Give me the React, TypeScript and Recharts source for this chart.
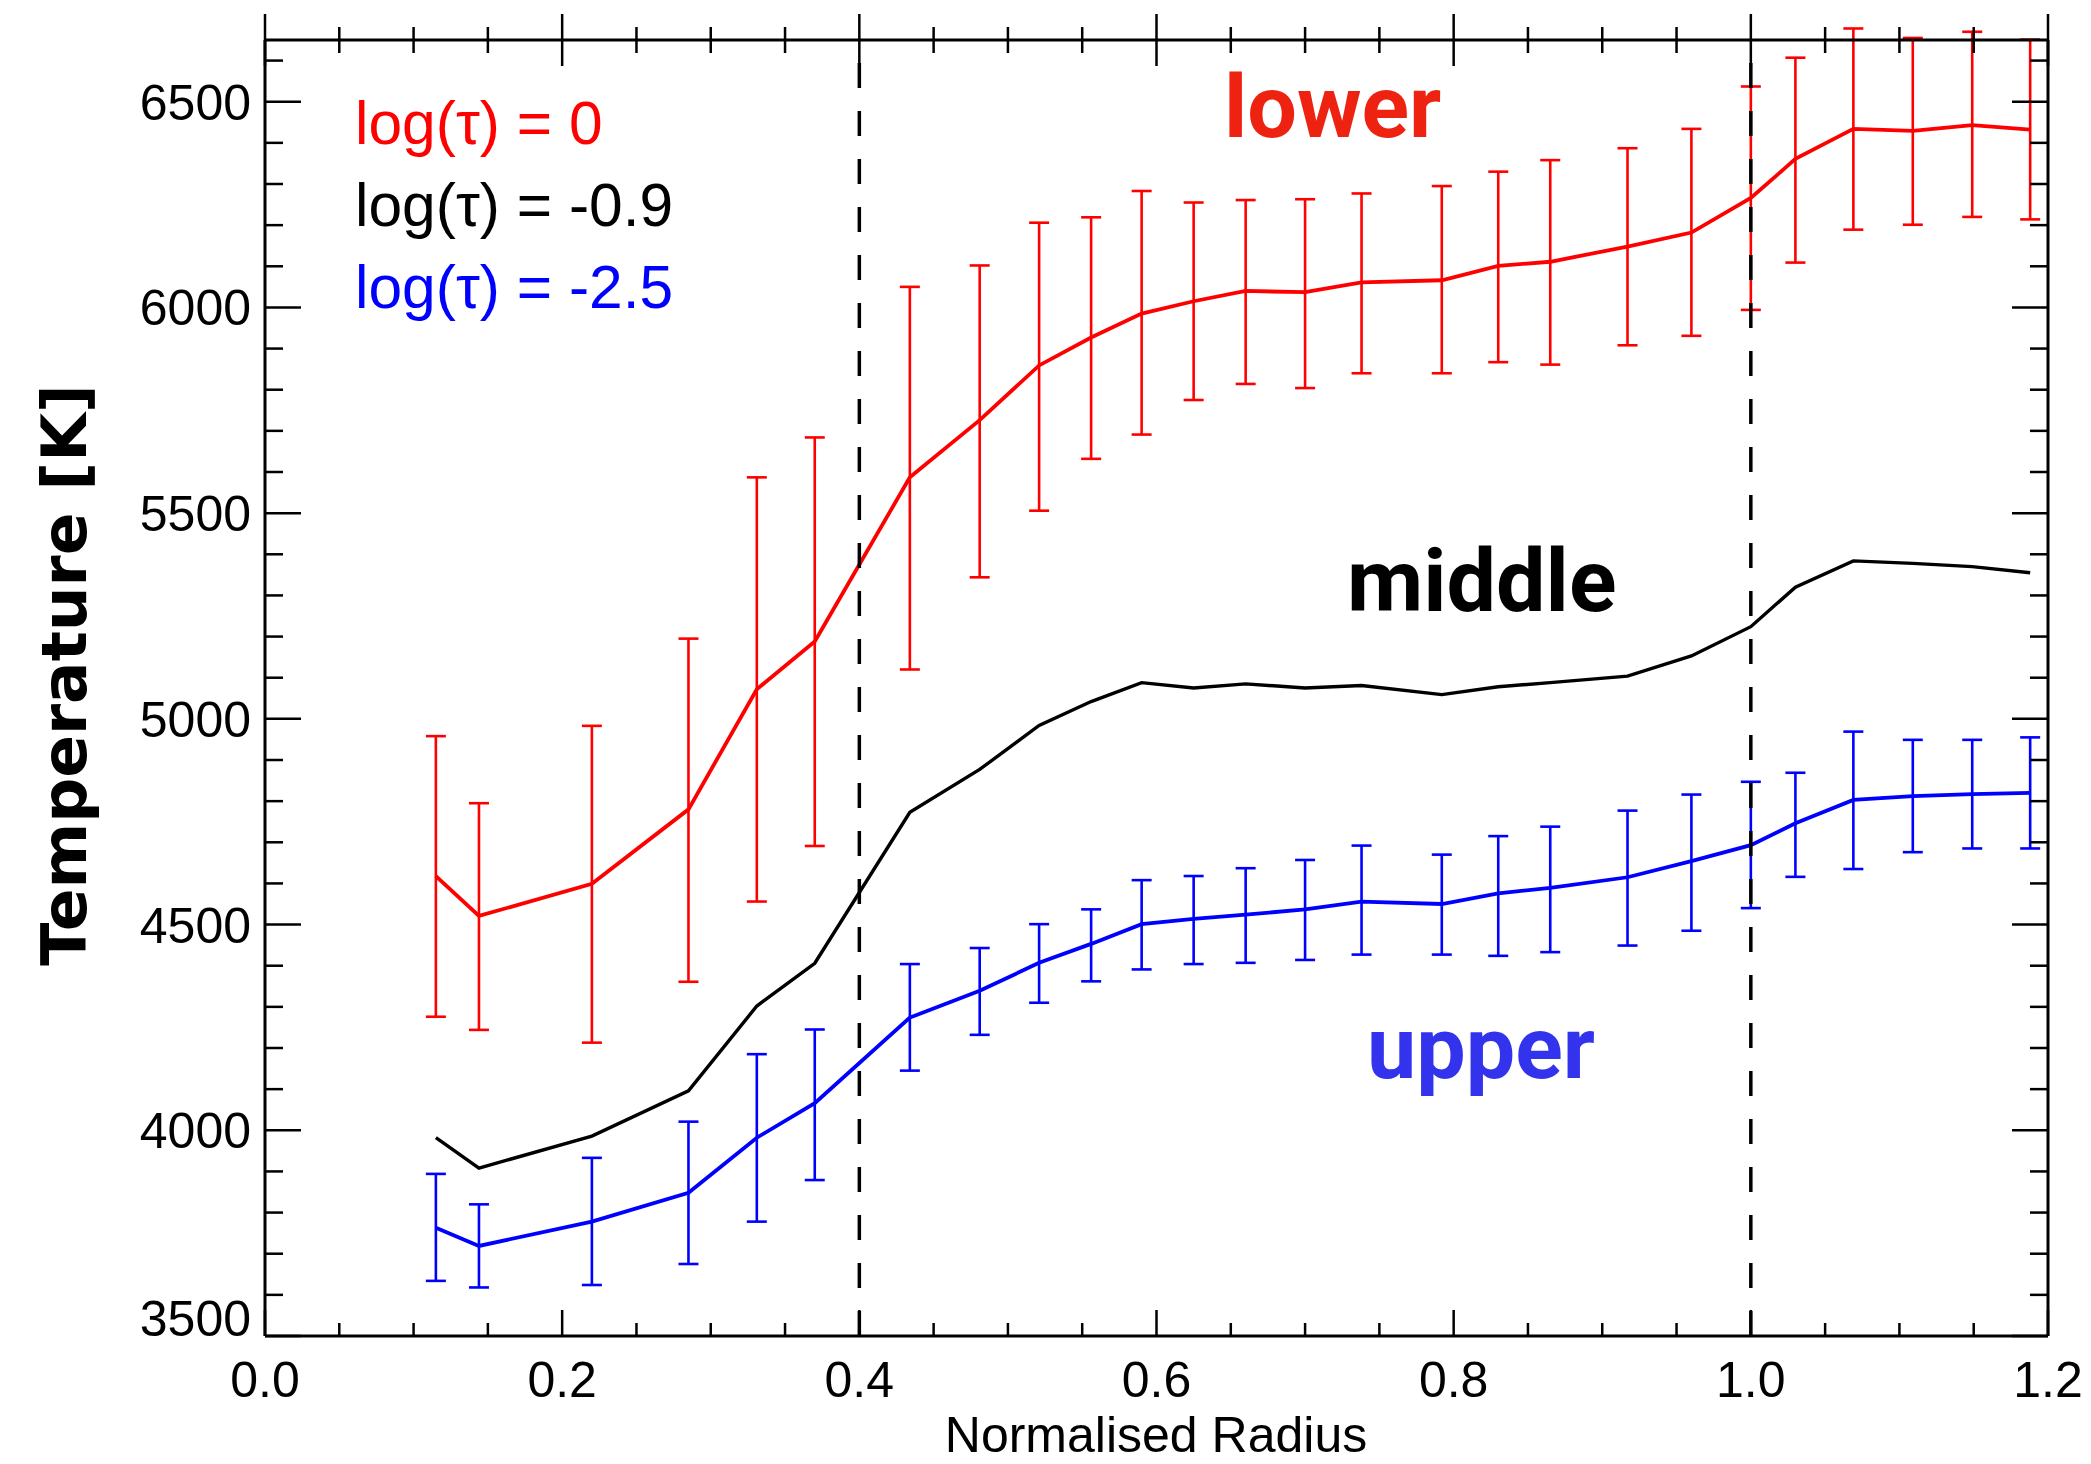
import { LineChart, Line, XAxis, YAxis, ErrorBar, ReferenceLine } from 'recharts'

// normalised radius of each sample
const radius = [
  0.115, 0.144, 0.22, 0.285, 0.331, 0.37, 0.434, 0.481, 0.521, 0.556, 0.59, 0.625, 0.66,
  0.7, 0.738, 0.792, 0.83, 0.865, 0.917, 0.96, 1.0, 1.03, 1.069, 1.109, 1.149, 1.188,
]

// log(tau) = 0  ("lower")
const lowerTemp = [
  4618, 4521, 4599, 4780, 5072, 5188, 5587, 5726, 5859, 5927, 5985, 6015, 6040,
  6037, 6061, 6066, 6101, 6111, 6148, 6182, 6266, 6361, 6434, 6429, 6443, 6432,
]
const lowerHigh = [
  4958, 4795, 4983, 5195, 5587, 5684, 6050, 6102, 6206, 6219, 6283, 6255, 6261,
  6263, 6277, 6295, 6330, 6358, 6387, 6434, 6537, 6607, 6678, 6655, 6670, 6651,
]
const lowerLow = [
  4276, 4244, 4213, 4361, 4556, 4691, 5120, 5344, 5506, 5632, 5691, 5775, 5814,
  5804, 5840, 5840, 5867, 5861, 5908, 5931, 5994, 6109, 6189, 6201, 6220, 6214,
]

// log(tau) = -0.9  ("middle")
const middleTemp = [
  3982, 3908, 3986, 4096, 4302, 4406, 4773, 4877, 4984, 5042, 5088, 5075, 5085,
  5075, 5081, 5059, 5078, 5088, 5104, 5153, 5224, 5320, 5384, 5378, 5370, 5355,
]

// log(tau) = -2.5  ("upper")
const upperTemp = [
  3763, 3719, 3778, 3848, 3982, 4066, 4274, 4339, 4407, 4453, 4501, 4514, 4524,
  4537, 4556, 4550, 4576, 4589, 4615, 4654, 4693, 4746, 4803, 4812, 4817, 4820,
]
const upperHigh = [
  3894, 3820, 3933, 4021, 4185, 4245, 4404, 4443, 4501, 4537, 4608, 4618, 4637,
  4657, 4692, 4670, 4715, 4738, 4777, 4816, 4847, 4869, 4969, 4949, 4949, 4955,
]
const upperLow = [
  3634, 3618, 3624, 3675, 3778, 3879, 4145, 4232, 4310, 4362, 4391, 4404, 4407,
  4414, 4427, 4427, 4424, 4433, 4449, 4485, 4540, 4616, 4635, 4676, 4685, 4685,
]

const xMajor = [0, 0.2, 0.4, 0.6, 0.8, 1.0, 1.2]
const yMajor = [3500, 4000, 4500, 5000, 5500, 6000, 6500]
const dividers = [0.4, 1.0]

const xTicks = Array.from({ length: 25 }, (_, i) => +(i * 0.05).toFixed(2))
const yTicks = Array.from({ length: 32 }, (_, i) => 3500 + i * 100)

const data = radius.map((r, i) => ({
  r,
  lower: lowerTemp[i],
  lowerErr: [lowerTemp[i] - lowerLow[i], lowerHigh[i] - lowerTemp[i]],
  middle: middleTemp[i],
  upper: upperTemp[i],
  upperErr: [upperTemp[i] - upperLow[i], upperHigh[i] - upperTemp[i]],
}))

const W = 2091
const H = 1464
const SANS = '"Liberation Sans", Arial, Helvetica, sans-serif'
const AXIS = { stroke: '#000', strokeWidth: 3 }

const isMajorX = (v: number) => xMajor.some(m => Math.abs(m - v) < 1e-6)
const isMajorY = (v: number) => yMajor.includes(v)

function BottomTick({ x, y, payload }: any) {
  const major = isMajorX(payload.value)
  return (
    <g>
      <line x1={x} x2={x} y1={y} y2={y - (major ? 26 : 13)} stroke="#000" strokeWidth={2.5} />
      {major && (
        <text x={x} y={y + 61} textAnchor="middle" fontSize={50} fontFamily={SANS} fill="#000">
          {payload.value.toFixed(1)}
        </text>
      )}
    </g>
  )
}

function TopTick({ x, y, payload }: any) {
  const len = isMajorX(payload.value) ? 26 : 13
  return <line x1={x} x2={x} y1={y - len} y2={y + len} stroke="#000" strokeWidth={2.5} />
}

function LeftTick({ x, y, payload }: any) {
  const major = isMajorY(payload.value)
  return (
    <g>
      <line x1={x} x2={x + (major ? 36 : 18)} y1={y} y2={y} stroke="#000" strokeWidth={2.5} />
      {major && (
        <text
          x={x - 14}
          y={payload.value === 3500 ? y : y + 18}
          textAnchor="end"
          fontSize={50}
          fontFamily={SANS}
          fill="#000"
        >
          {payload.value}
        </text>
      )}
    </g>
  )
}

function RightTick({ x, y, payload }: any) {
  const len = isMajorY(payload.value) ? 36 : 18
  return <line x1={x} x2={x - len} y1={y} y2={y} stroke="#000" strokeWidth={2.5} />
}

export default function App() {
  return (
    <div style={{ position: 'relative', width: W, height: H, background: '#fff' }}>
      <style>{'body{margin:0}'}</style>
      <LineChart width={W} height={H} data={data} margin={{ top: 39, right: 42, left: 0, bottom: 0 }}>
        <XAxis
          dataKey="r"
          type="number"
          domain={[0, 1.2]}
          allowDataOverflow
          ticks={xTicks}
          interval={0}
          height={128}
          tickSize={0}
          tickMargin={0}
          tickLine={false}
          axisLine={AXIS}
          tick={<BottomTick />}
        />
        <XAxis
          xAxisId="top"
          orientation="top"
          dataKey="r"
          type="number"
          domain={[0, 1.2]}
          allowDataOverflow
          ticks={xTicks}
          interval={0}
          height={1}
          tickSize={0}
          tickMargin={0}
          tickLine={false}
          axisLine={AXIS}
          tick={<TopTick />}
        />
        <YAxis
          type="number"
          domain={[3500, 6650]}
          allowDataOverflow
          ticks={yTicks}
          interval={0}
          width={265}
          tickSize={0}
          tickMargin={0}
          tickLine={false}
          axisLine={AXIS}
          tick={<LeftTick />}
        />
        <YAxis
          yAxisId="right"
          orientation="right"
          type="number"
          domain={[3500, 6650]}
          allowDataOverflow
          ticks={yTicks}
          interval={0}
          width={1}
          tickSize={0}
          tickMargin={0}
          tickLine={false}
          axisLine={AXIS}
          tick={<RightTick />}
        />
        {/* invisible series so the mirrored top/right axes have data */}
        <Line
          xAxisId="top"
          yAxisId="right"
          dataKey="middle"
          stroke="none"
          dot={false}
          activeDot={false}
          isAnimationActive={false}
        />
        <Line
          dataKey="lower"
          stroke="#ff0000"
          strokeWidth={3.8}
          dot={false}
          activeDot={false}
          isAnimationActive={false}
        >
          <ErrorBar dataKey="lowerErr" direction="y" width={10} stroke="#ff0000" strokeWidth={2.6} isAnimationActive={false} />
        </Line>
        <Line
          dataKey="middle"
          stroke="#000000"
          strokeWidth={3.4}
          dot={false}
          activeDot={false}
          isAnimationActive={false}
        />
        <Line
          dataKey="upper"
          stroke="#0000ff"
          strokeWidth={3.8}
          dot={false}
          activeDot={false}
          isAnimationActive={false}
        >
          <ErrorBar dataKey="upperErr" direction="y" width={10} stroke="#0000ff" strokeWidth={2.6} isAnimationActive={false} />
        </Line>
        {dividers.map(d => (
          <ReferenceLine key={d} x={d} stroke="#000" strokeWidth={3.5} strokeDasharray="25 23" />
        ))}
      </LineChart>
      <svg
        width={W}
        height={H}
        style={{ position: 'absolute', left: 0, top: 0, pointerEvents: 'none' }}
      >
        <text
          x={86}
          y={675}
          transform="rotate(-90 86 675)"
          textAnchor="middle"
          fontSize={63}
          fontWeight="bold"
          fontFamily='"DejaVu Sans", sans-serif'
          fill="#000"
        >
          Temperature [K]
        </text>
        <text x={1156} y={1452} textAnchor="middle" fontSize={50} fontFamily={SANS} fill="#000">
          Normalised Radius
        </text>
        <text x={355} y={144} fontSize={60.5} fontFamily={SANS} fill="#ff0000">
          log(τ) = 0
        </text>
        <text x={355} y={226} fontSize={60.5} fontFamily={SANS} fill="#000">
          log(τ) = -0.9
        </text>
        <text x={355} y={308} fontSize={60.5} fontFamily={SANS} fill="#0000ff">
          log(τ) = -2.5
        </text>
        <text x={1224} y={137} fontSize={88} fontWeight="bold" fontFamily="Roboto, sans-serif" fill="#ee2211">
          lower
        </text>
        <text x={1347} y={611} fontSize={88} fontWeight="bold" fontFamily="Roboto, sans-serif" fill="#000">
          middle
        </text>
        <text x={1367} y={1078} fontSize={88} fontWeight="bold" fontFamily="Roboto, sans-serif" fill="#3333ee">
          upper
        </text>
      </svg>
    </div>
  )
}
